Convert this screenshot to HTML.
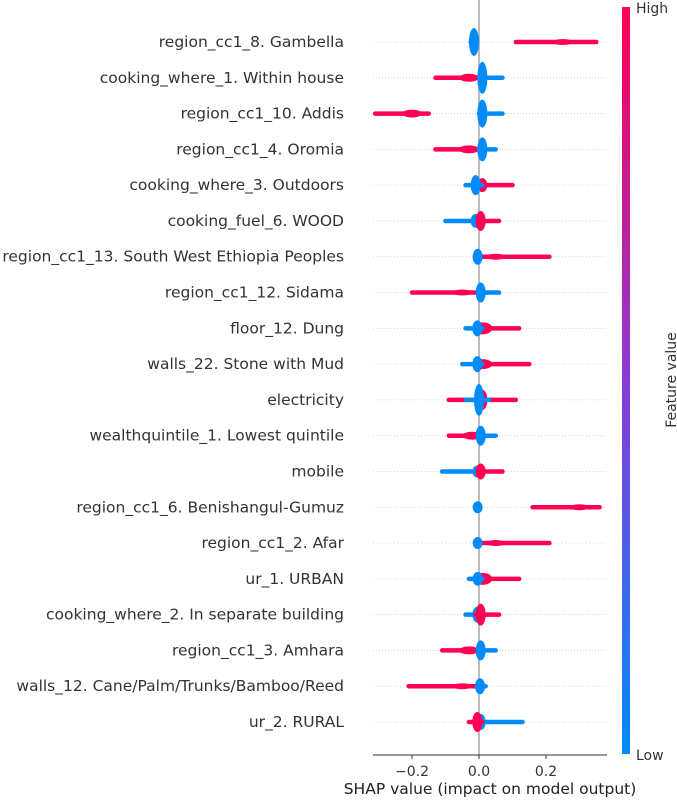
<!DOCTYPE html>
<html><head><meta charset="utf-8">
<style>
html,body{margin:0;padding:0;background:#fff;}
body{width:677px;height:799px;overflow:hidden;font-family:"DejaVu Sans","Liberation Sans",sans-serif;}
</style></head>
<body>
<svg id="chart" width="677" height="799" xmlns="http://www.w3.org/2000/svg">
<defs>
<linearGradient id="cb" x1="0" y1="1" x2="0" y2="0">
<stop offset="0" stop-color="#008bfb"/><stop offset="0.5" stop-color="#8a3ad6"/><stop offset="1" stop-color="#ff0052"/>
</linearGradient>
</defs>
</svg>
<script>
const features = ["region_cc1_8. Gambella","cooking_where_1. Within house","region_cc1_10. Addis","region_cc1_4. Oromia","cooking_where_3. Outdoors","cooking_fuel_6. WOOD","region_cc1_13. South West Ethiopia Peoples","region_cc1_12. Sidama","floor_12. Dung","walls_22. Stone with Mud","electricity","wealthquintile_1. Lowest quintile","mobile","region_cc1_6. Benishangul-Gumuz","region_cc1_2. Afar","ur_1. URBAN","cooking_where_2. In separate building","region_cc1_3. Amhara","walls_12. Cane/Palm/Trunks/Bamboo/Reed","ur_2. RURAL"];
const blueMin = [-0.025,0,0,0,-0.04,-0.1,-0.01,0,-0.04,-0.05,-0.04,0,-0.11,-0.01,-0.01,-0.03,-0.04,0,0,0];
const blueMax = [-0.005,0.07,0.07,0.05,0.01,0,0,0.06,0.01,0.01,0.03,0.05,0,0,0,0.01,0.02,0.05,0.02,0.13];
const redMin = [0.11,-0.13,-0.31,-0.13,0,0,0.01,-0.2,0,0,-0.09,-0.09,0,0.16,0.01,0,-0.01,-0.11,-0.21,-0.03];
const redMax = [0.35,0,-0.15,0,0.1,0.06,0.21,0,0.12,0.15,0.11,0,0.07,0.36,0.21,0.12,0.06,0,0,0.01];
const blueBlobX = [-0.015,0.01,0.01,0.01,-0.01,-0.01,-0.004,0.005,-0.005,-0.005,0,0.005,-0.005,-0.004,-0.004,-0.004,-0.005,0.005,0.003,0.005];
const blueBlobH = [14,16,14,12,10,7,8,10,8,8,16,10,6,6,6,7,8,10,8,8];
const redBlobX = [0.25,-0.03,-0.2,-0.03,0.01,0.005,0.05,-0.05,0.01,0.01,0.01,-0.02,0.005,0.3,0.05,0.01,0.005,-0.03,-0.05,-0.005];
const redBlobH = [3,4,4,4,7,10,3,3,6,5,10,4,8,3,3,6,11,4,3,10];
const xTicks = [-0.2,0,0.2];
const xTickLabels = ["\u22120.2","0.0","0.2"];

const svg = document.getElementById('chart');
const NS = "http://www.w3.org/2000/svg";
const x = v => 479 + v*335;
const y = i => 42 + i*35.79;
function mk(tag, attrs, parent){const e=document.createElementNS(NS,tag);for(const k in attrs)e.setAttribute(k,attrs[k]);(parent||svg).appendChild(e);return e;}

features.forEach((f,i)=>{
  const g=mk('line',{x1:373,x2:607,y1:y(i),y2:y(i),stroke:'#ccc','stroke-width':0.8,'stroke-dasharray':'1,2'});
  
  
});
const zl=mk('line',{x1:x(0),x2:x(0),y1:0,y2:755,stroke:'#999','stroke-width':1.3});



features.forEach((f,i)=>{
  const g=mk('g',{});
  
  
  const yy=y(i);
  const drawBlue=()=>{
    mk('line',{x1:x(blueMin[i]),x2:x(blueMax[i]),y1:yy,y2:yy,stroke:'#008bfb','stroke-width':4.5,'stroke-linecap':'round'},g);
    mk('ellipse',{cx:x(blueBlobX[i]),cy:yy,rx:5,ry:blueBlobH[i],fill:'#008bfb'},g);
  };
  const drawRed=()=>{
    mk('line',{x1:x(redMin[i]),x2:x(redMax[i]),y1:yy,y2:yy,stroke:'#ff0052','stroke-width':4.5,'stroke-linecap':'round'},g);
    mk('ellipse',{cx:x(redBlobX[i]),cy:yy,rx:redBlobH[i]>6?5:10,ry:redBlobH[i],fill:'#ff0052'},g);
  };
  if(blueBlobH[i]>=redBlobH[i]){drawRed();drawBlue();}else{drawBlue();drawRed();}
  const t=mk('text',{x:344,y:yy+5,'text-anchor':'end','font-size':15.5,fill:'#333'});
  t.textContent=f;
  
  
});

const ax=mk('line',{x1:373,x2:607,y1:755,y2:755,stroke:'#333','stroke-width':1});


xTicks.forEach((v,k)=>{
  mk('line',{x1:x(v),x2:x(v),y1:755,y2:759,stroke:'#333'});
  const t=mk('text',{x:x(v),y:776,'text-anchor':'middle','font-size':14,fill:'#333'});
  t.textContent=xTickLabels[k];
  
  
});
const xl=mk('text',{x:490,y:794,'text-anchor':'middle','font-size':15.5,fill:'#222'});
xl.textContent='SHAP value (impact on model output)';



const cb=mk('rect',{x:622,y:7,width:8,height:747,fill:'url(#cb)'});


const hi=mk('text',{x:636,y:13,'font-size':14,fill:'#333'});
hi.textContent='High';


const lo=mk('text',{x:636,y:760,'font-size':14,fill:'#333'});
lo.textContent='Low';


const fv=mk('text',{x:0,y:0,'font-size':14,fill:'#333','text-anchor':'middle',transform:'translate(676,380) rotate(-90)'});
fv.textContent='Feature value';


</script>
</body></html>
